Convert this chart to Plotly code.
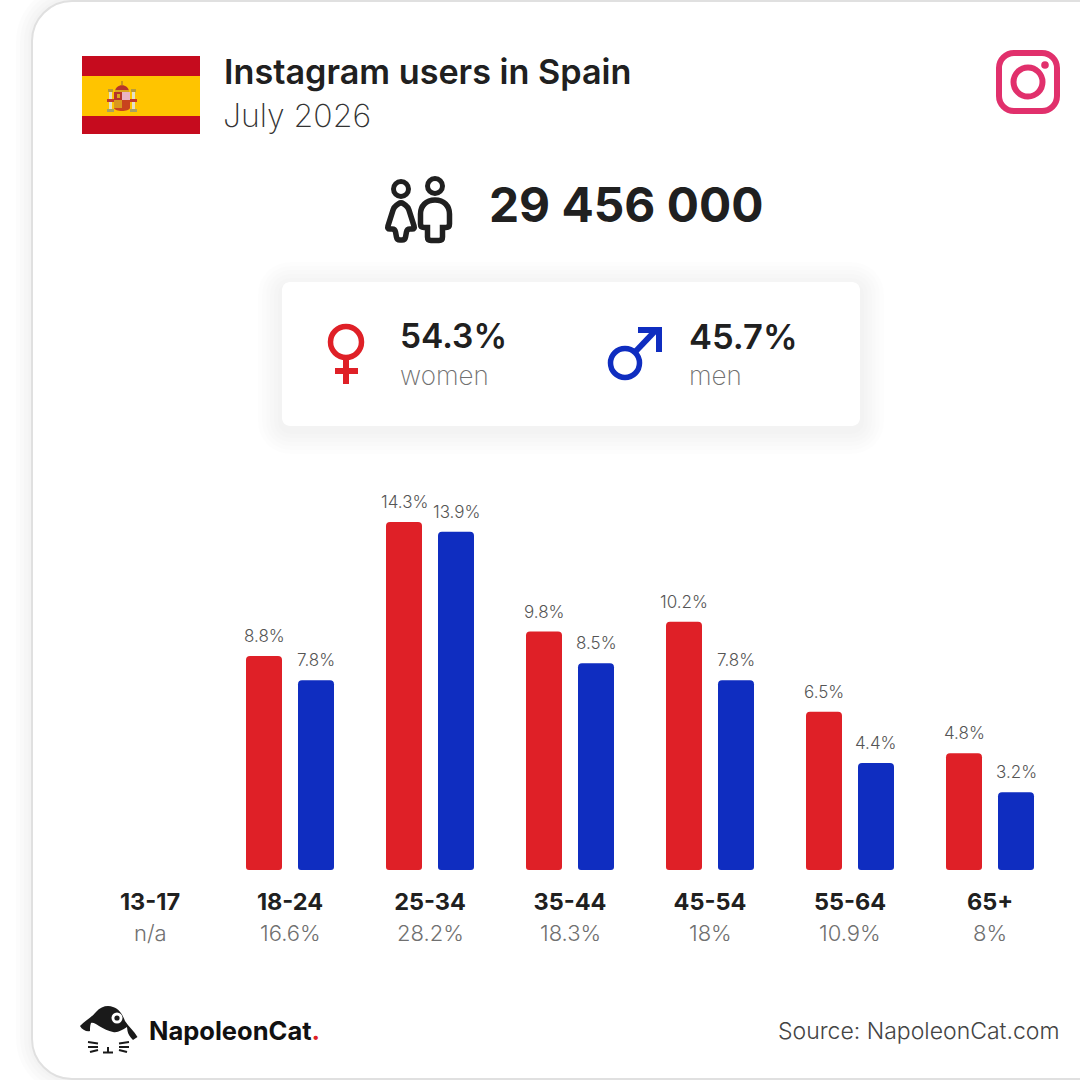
import plotly.graph_objects as go

# ---------- data ----------
age_groups = ["13-17", "18-24", "25-34", "35-44", "45-54", "55-64", "65+"]
women = [None, 8.8, 14.3, 9.8, 10.2, 6.5, 4.8]
men = [None, 7.8, 13.9, 8.5, 7.8, 4.4, 3.2]
totals = ["n/a", "16.6%", "28.2%", "18.3%", "18%", "10.9%", "8%"]
title = "Instagram users in Spain"
subtitle = "July 2026"
total_users = "29 456 000"
share_women = "54.3%"
share_men = "45.7%"
source = "Source: NapoleonCat.com"

RED = "#DF2027"
BLUE = "#0F2DC0"
DARK = "#202020"
GREY = "#707070"
FONT = "Inter"
W = H = 1080


def px(x):
    return x / W


def py(y):
    return 1 - y / H


def path(s):
    """Turn an SVG-like path in page pixels into paper coordinates."""
    out, is_x = [], True
    for tok in s.split():
        if tok[0].isalpha():
            out.append(tok)
            continue
        val = float(tok)
        out.append(f"{px(val):.5f}" if is_x else f"{py(val):.5f}")
        is_x = not is_x
    res, i = [], 0
    while i < len(out):
        if out[i][0].isalpha():
            res.append(out[i])
            i += 1
        else:
            res.append(out[i] + "," + out[i + 1])
            i += 2
    return " ".join(res)


def rrect(x0, y0, x1, y1, r):
    k = r * 0.45
    return (f"M {x0+r} {y0} L {x1-r} {y0} C {x1-k} {y0} {x1} {y0+k} {x1} {y0+r} "
            f"L {x1} {y1-r} C {x1} {y1-k} {x1-k} {y1} {x1-r} {y1} "
            f"L {x0+r} {y1} C {x0+k} {y1} {x0} {y1-k} {x0} {y1-r} "
            f"L {x0} {y0+r} C {x0} {y0+k} {x0+k} {y0} {x0+r} {y0} Z")


def round_poly(pts, r):
    """Closed polygon with every corner replaced by a quadratic curve."""
    n = len(pts)
    parts = []
    for i in range(n):
        x, y = pts[i]
        xa, ya = pts[i - 1]
        xb, yb = pts[(i + 1) % n]
        da = ((xa - x) ** 2 + (ya - y) ** 2) ** 0.5
        db = ((xb - x) ** 2 + (yb - y) ** 2) ** 0.5
        ra = min(r, da / 2)
        rb = min(r, db / 2)
        p0 = (x + (xa - x) * ra / da, y + (ya - y) * ra / da)
        p1 = (x + (xb - x) * rb / db, y + (yb - y) * rb / db)
        parts.append(("M" if i == 0 else "L") + f" {p0[0]:.2f} {p0[1]:.2f} Q {x} {y} {p1[0]:.2f} {p1[1]:.2f}")
    return " ".join(parts) + " Z"


shapes = []


def shp(d, fill=None, line=None, lw=0, op=1, layer="below"):
    shapes.append(dict(type="path", xref="paper", yref="paper", path=path(d),
                       fillcolor=fill or "rgba(0,0,0,0)", opacity=op, layer=layer,
                       line=dict(color=line or "rgba(0,0,0,0)", width=lw)))


def box(x0, y0, x1, y1, fill):
    shapes.append(dict(type="rect", xref="paper", yref="paper", x0=px(x0), x1=px(x1),
                       y0=py(y1), y1=py(y0), fillcolor=fill, line=dict(width=0), layer="below"))


def circ(cx, cy, r, fill=None, line=None, lw=0):
    shapes.append(dict(type="circle", xref="paper", yref="paper", x0=px(cx - r), x1=px(cx + r),
                       y0=py(cy + r), y1=py(cy - r), fillcolor=fill or "rgba(0,0,0,0)",
                       line=dict(color=line or "rgba(0,0,0,0)", width=lw), layer="below"))


# card
for i, op in enumerate([0.012, 0.012, 0.012, 0.012]):
    g = 16 - 4 * i
    shp(rrect(32 - g, 1 - g, 1200, 1079 + g, 40 + g), fill="#000000", op=op)
shp(rrect(32, 1, 1200, 1079, 40), fill="#FFFFFF", line="#E0E0E0", lw=2)

# flag
box(82, 56, 200, 134, "#C60B1E")
box(82, 76, 200, 116, "#FFC400")
box(109, 91, 112, 110, "#E4DFC8")
box(132, 91, 135, 110, "#E4DFC8")
box(108, 89, 113, 92, "#B89A3A")
box(131, 89, 136, 92, "#B89A3A")
box(107, 109, 114, 112, "#A8A060")
box(130, 109, 137, 112, "#A8A060")
box(107, 99, 114, 102, "#C23A2A")
box(130, 99, 137, 102, "#C23A2A")
box(114, 92, 122, 100, "#B5352A")
box(117, 94, 120, 98, "#D9A520")
box(122, 92, 130, 100, "#E9B4C4")
box(114, 100, 122, 108, "#D9971E")
box(122, 100, 130, 108, "#C8431E")
shp("M 114 108 C 115 112 129 112 130 108 Z", fill="#C8431E")
shp("M 115 92 C 115 83 129 83 129 92 Z", fill="#B5352A")
box(115, 90, 129, 92, "#D9A520")
box(121, 81, 123, 85, "#C8971A")

# people icon
circ(401, 189, 7.5, line=DARK, lw=5)
circ(435, 186, 7.5, line=DARK, lw=5)
shp(round_poly([(401, 202), (408, 207), (415, 229), (407, 229), (405, 240), (397, 240), (395, 229), (387, 229), (394, 207)], 3),
    line=DARK, lw=5.5)
shp("M 435 200 C 444 200 449.5 206 449.5 214 L 449.5 224 Q 449.5 227.5 446 227.5 L 442.5 227.5 L 442.5 237 "
    "Q 442.5 240.5 439 240.5 L 431 240.5 Q 427.5 240.5 427.5 237 L 427.5 227.5 L 424 227.5 Q 420.5 227.5 420.5 224 "
    "L 420.5 214 C 420.5 206 426 200 435 200 Z", line=DARK, lw=5.5)

# instagram icon
PINK = "#E1306C"
shp(rrect(999, 53, 1057, 111, 15), line=PINK, lw=6)
circ(1028, 82, 14.5, line=PINK, lw=6)
circ(1045, 65, 3.8, fill=PINK)

# summary box
for i, op in enumerate([0.007, 0.007, 0.008, 0.008, 0.008, 0.008]):
    g = 24 - 4 * i
    shp(rrect(282 - g, 282 - g + 4, 860 + g, 426 + g + 4, 8 + g), fill="#000000", op=op)
shp(rrect(282, 282, 860, 426, 8), fill="#FFFFFF")

# female symbol
circ(346, 342, 15.5, line=RED, lw=5.5)
box(343, 358, 349, 384, RED)
box(335, 368, 358, 374, RED)
# male symbol
circ(625, 363, 14.5, line=BLUE, lw=5.5)
shp("M 636 351 L 657 329", line=BLUE, lw=6)
shp("M 638 327 L 662 327 L 662 352 L 656 352 L 656 333 L 638 333 Z", fill=BLUE)

# cat logo
shp("M 80 1026 C 86 1020 92 1017 96 1012 C 101 1006 108 1005 113 1007 C 120 1009 123 1016 125 1021 "
    "C 129 1027 134 1031 137.5 1037 L 133 1040 C 130 1037 128 1034 127.5 1031 L 127 1027 "
    "C 122 1030 118 1033 113 1032 C 108 1031 104 1029 99 1026 C 96 1024 93 1022 91 1023 "
    "C 90 1026 90 1028 90 1031 C 87 1032 82 1030 80 1026 Z", fill="#1A1A1A")
circ(117, 1018, 5.5, fill="#FFFFFF")
circ(117, 1018, 2.6, fill="#1A1A1A")
for d in ["M 88 1042 L 98 1043.5", "M 88 1047 L 98 1047", "M 90 1052 L 98 1050",
          "M 129 1042 L 119 1043.5", "M 129 1047 L 119 1047", "M 127 1052 L 119 1050",
          "M 103 1052.5 L 113 1052.5", "M 108 1047 L 108 1052.5"]:
    shp(d, line="#1A1A1A", lw=2)

fig = go.Figure()
for name, vals, col in [("Women", women, RED), ("Men", men, BLUE)]:
    fig.add_trace(go.Bar(name=name, x=age_groups, y=vals, marker=dict(color=col, cornerradius=4, line=dict(width=0)),
                         hoverinfo="x+y+name", showlegend=False))

TOP = 480
BASE = 870
PER = 24.33

ann = []


def text(x, y, s, size, color=DARK, weight=400, anchor="left", yanchor="middle"):
    ann.append(dict(xref="paper", yref="paper", x=px(x), y=py(y), text=s, showarrow=False,
                    xanchor=anchor, yanchor=yanchor,
                    font=dict(family=FONT, size=size, color=color, weight=weight)))


# value labels, placed through the data scales; soft lower corners on each bar
for vals, shift in [(women, -26), (men, 26)]:
    for k, (cat, v) in enumerate(zip(age_groups, vals)):
        if v is None:
            continue
        ann.append(dict(xref="x", yref="y", x=cat, y=v, text=f"{v}%", showarrow=False,
                        xshift=shift, yshift=8, yanchor="bottom", xanchor="center",
                        font=dict(family=FONT, size=17, color="#555555", weight=300)))
        cx = 150 + 140 * k + shift
        for edge, sgn in [(cx - 18, 1), (cx + 18, -1)]:
            r = 3
            shp(f"M {edge-sgn} {BASE+1} L {edge-sgn} {BASE-r} L {edge} {BASE-r} Q {edge} {BASE} {edge+sgn*r} {BASE} "
                f"L {edge+sgn*r} {BASE+1} Z", fill="#FFFFFF", layer="above")

for i, t in enumerate(totals):
    text(150 + 140 * i, 933, t, 22, GREY, 300, "center")

text(222, 71, title, 34.2, DARK, 600)
text(221, 115, subtitle, 32, "#333333", 200)
text(487, 205, total_users, 47.8, DARK, 700)
text(398, 336, share_women, 33.5, DARK, 600)
text(398, 376, "women", 26, GREY, 200)
text(687, 336, share_men, 34.5, DARK, 600)
text(687, 376, "men", 26, GREY, 200)
ann.append(dict(xref="paper", yref="paper", x=px(147), y=py(1030),
                text='NapoleonCat<span style="color:#DF2027">.</span>', showarrow=False,
                xanchor="left", yanchor="middle",
                font=dict(family=FONT, size=25.5, color="#111111", weight=700)))
text(1061, 1031, source, 23, "#444444", 300, "right")

fig.update_layout(
    width=W, height=H, margin=dict(l=0, r=0, t=0, b=0), autosize=False,
    paper_bgcolor="#FFFFFF", plot_bgcolor="rgba(0,0,0,0)",
    barmode="group", bargap=36 / 140, bargroupgap=1 - 36 / 52,
    showlegend=False, shapes=shapes, annotations=ann,
    xaxis=dict(domain=[px(80), px(1060)], type="category", categoryorder="array", categoryarray=age_groups,
               range=[-0.5, 6.5], showgrid=False, zeroline=False, showline=False, ticks="",
               ticklabelstandoff=15,
               tickfont=dict(family=FONT, size=23.5, color=DARK, weight=700), anchor="free", position=py(BASE)),
    yaxis=dict(domain=[py(BASE), py(TOP)], range=[0, (BASE - TOP) / PER], visible=False),
)
fig.write_html("out.html", config={"displayModeBar": False},
               post_script="document.body.style.margin='0';document.body.style.overflow='hidden';")
